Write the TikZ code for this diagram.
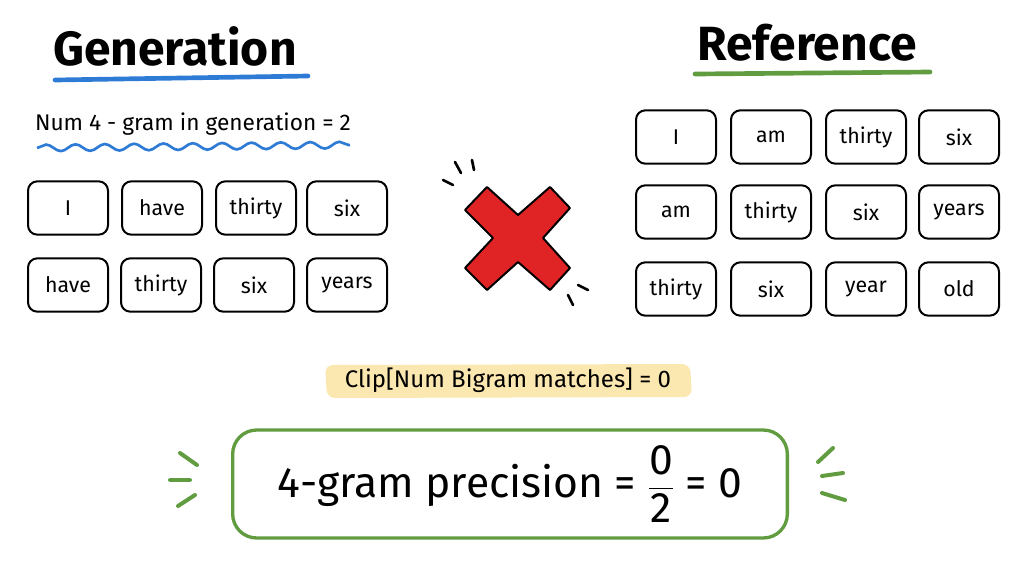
\documentclass[tikz,border=0pt]{standalone}
\usepackage{amsmath}
\usepackage{fontspec}
\setmainfont{Fira Sans}
\usetikzlibrary{decorations.pathmorphing}
\definecolor{penblue}{RGB}{46,123,214}
\definecolor{pengreen}{RGB}{98,156,64}
\definecolor{penred}{RGB}{224,36,38}
\definecolor{marker}{RGB}{251,231,176}
\tikzset{every picture/.style={line width=0.75pt}}
\tikzset{
	word/.style={draw, rounded corners=7, line width=1.5pt, minimum width=60pt, minimum height=40pt, inner sep=0pt, font=\fontsize{16}{19}\selectfont},
	title/.style={font=\fontsize{36}{40}\selectfont\bfseries},
	tick/.style={line width=3pt, line cap=round}}

\begin{document}
\begin{tikzpicture}[x=0.75pt,y=0.75pt,yscale=-1,xscale=1]
	\useasboundingbox (0,0) rectangle (1024,576);

	% Text Node
	\node[title] (gentitle) at (175,46) {Generation};
	%Straight Lines [id:underline-gen]
	\draw [penblue, line width=3.5pt, line cap=round] (55,80) -- (308,76) ;
	% Text Node
	\node[font=\fontsize{17}{20}\selectfont] (gencount) at (193,124) {Num 4 - gram in generation = 2};
	%Curve Lines [id:wave-gen]
	\draw [penblue, line width=2pt, decorate, decoration={snake, amplitude=2.5, segment length=22}] (37,148) -- (350,145) ;

	% Text Node
	\node[title] (reftitle) at (807,43) {Reference};
	%Straight Lines [id:underline-ref]
	\draw [pengreen, line width=3.5pt, line cap=round] (695,74) -- (930,72) ;

	% Generation 4-grams
	\node[word] (g1a) at (68,208) {I};
	\node[word] (g1b) at (162,208) {have};
	\node[word] (g1c) at (256,208) {thirty};
	\node[word] (g1d) at (347,208) {six};
	\node[word] (g2a) at (68,285) {have};
	\node[word] (g2b) at (161,285) {thirty};
	\node[word] (g2c) at (254,285) {six};
	\node[word] (g2d) at (347,285) {years};

	% Reference 4-grams
	\node[word] (r1a) at (676,137) {I};
	\node[word] (r1b) at (771,137) {am};
	\node[word] (r1c) at (866,137) {thirty};
	\node[word] (r1d) at (959,137) {six};
	\node[word] (r2a) at (676,212) {am};
	\node[word] (r2b) at (771,212) {thirty};
	\node[word] (r2c) at (866,212) {six};
	\node[word] (r2d) at (959,212) {years};
	\node[word] (r3a) at (676,289) {thirty};
	\node[word] (r3b) at (771,289) {six};
	\node[word] (r3c) at (866,289) {year};
	\node[word] (r3d) at (959,289) {old};

	%Shape: Cross [id:cross]
	\draw [fill=penred, line width=1.5pt, line join=round] (487,187) -- (518,215) -- (550,187) -- (570,208) -- (543,238) -- (570,268) -- (550,290) -- (518,262) -- (487,290) -- (465,268) -- (493,238) -- (465,210) -- cycle ;
	%Straight Lines [id:cross-ticks]
	\draw [tick, line width=2pt] (443,180) -- (453,185) ;
	\draw [tick, line width=2pt] (455,162) -- (461,173) ;
	\draw [tick, line width=2pt] (472,160) -- (474,170) ;
	\draw [tick, line width=2pt] (578,285) -- (588,290) ;
	\draw [tick, line width=2pt] (568,295) -- (573,305) ;

	%Shape: Highlight [id:marker]
	\fill [marker, rounded corners=6] (325,365) -- (690,364) -- (692,397) -- (327,398) -- cycle ;
	% Text Node
	\node[font=\fontsize{18}{21}\selectfont] (clip) at (508,380) {Clip[Num Bigram matches] = 0};

	%Shape: Rounded Rect [id:result]
	\node[draw=pengreen, line width=2.5pt, rounded corners=18, minimum width=416pt, minimum height=81pt, font=\fontsize{32}{38}\selectfont] (result) at (510,484) {4-gram precision = $\dfrac{\text{0}}{\text{2}}$ = 0};
	%Straight Lines [id:result-ticks]
	\draw [tick, pengreen] (180,453) -- (197,465) ;
	\draw [tick, pengreen] (170,480) -- (190,480) ;
	\draw [tick, pengreen] (178,506) -- (195,495) ;
	\draw [tick, pengreen] (833,448) -- (818,462) ;
	\draw [tick, pengreen] (822,476) -- (843,473) ;
	\draw [tick, pengreen] (822,493) -- (845,500) ;

\end{tikzpicture}
\end{document}
